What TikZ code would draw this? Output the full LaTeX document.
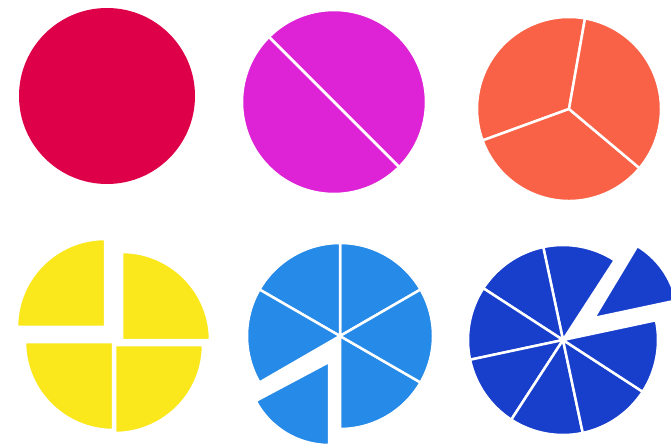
\documentclass[tikz,border=0pt]{standalone}
\usepackage{tikz}
\usetikzlibrary{calc}
\usepackage{xcolor}
\definecolor{wholered}{RGB}{222,0,72}
\definecolor{halfmagenta}{RGB}{222,34,214}
\definecolor{thirdorange}{RGB}{250,98,72}
\definecolor{quarteryellow}{RGB}{250,232,28}
\definecolor{sixthblue}{RGB}{38,138,232}
\definecolor{eighthblue}{RGB}{24,62,204}
\tikzset{piece/.style={draw=white,line width=2.5pt,line join=round}}
% #1 colour, #2 centre, #3 radius, #4 start angle, #5 end angle
\newcommand{\slice}[5]{%
  \filldraw[piece,fill=#1] #2 -- ++(#4:#3) arc[start angle=#4,end angle=#5,radius=#3] -- cycle;}

\begin{document}
\begin{tikzpicture}[x=1pt,y=1pt]
        \useasboundingbox (0,0) rectangle (671,447);
        \clip (0,0) rectangle (671,447);
        % Whole
        \fill[wholered] (107,351) circle (88);
        % Halves
        \foreach \a in {-45,135} \slice{halfmagenta}{(334,345)}{92}{\a}{\a+180};
        % Thirds
        \foreach \a in {80,200,320} \slice{thirdorange}{(569,338)}{92}{\a}{\a+120};
        % Quarters, pulled apart
        \slice{quarteryellow}{(105,120)}{88}{90}{180}
        \slice{quarteryellow}{(122,107)}{88}{0}{90}
        \slice{quarteryellow}{(113,105)}{88}{180}{270}
        \slice{quarteryellow}{(115,102)}{88}{270}{360}
        % Sixths, one slice moved out
        \foreach \a in {30,90,150,270,330} \slice{sixthblue}{(340,111)}{93}{\a}{\a+60};
        \slice{sixthblue}{(329,85)}{83}{208}{270}
        % Eighths, one slice moved out
        \foreach \a in {57,102,...,327} \slice{eighthblue}{(563,107)}{95}{\a}{\a+45};
        \slice{eighthblue}{(594,129)}{84}{12}{59}
\end{tikzpicture}
\end{document}
